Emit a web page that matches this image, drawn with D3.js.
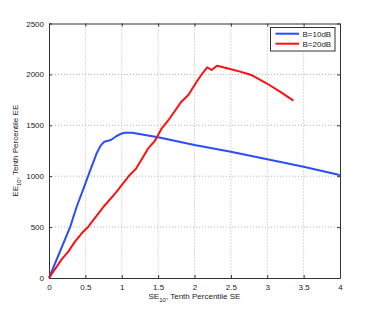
<!DOCTYPE html>
<html>
<head>
<meta charset="utf-8">
<script src="https://cdn.jsdelivr.net/npm/d3@7"></script>
<style>
  body { margin: 0; background: #fff; }
  text { font-family: "Liberation Sans", Arial, sans-serif; fill: #222; }
</style>
</head>
<body>
<script>
// series
const seB10x = [0, 0.29, 0.38, 0.47, 0.56, 0.655, 0.71, 0.76, 0.85, 0.93, 1.0, 1.045, 1.145, 1.32, 1.5, 2, 2.5, 3, 3.5, 3.98, 4];
const eeB10 = [0, 500, 700, 870, 1044, 1225, 1300, 1339, 1356, 1395, 1420, 1427, 1427, 1405, 1382, 1306, 1241, 1166, 1093, 1015, 1000];

const seB20x = [0, 0.174, 0.265, 0.357, 0.47, 0.54, 0.68, 0.75, 0.91, 1.0, 1.11, 1.2, 1.365, 1.457, 1.55, 1.66, 1.82, 1.915, 2.03, 2.11, 2.175, 2.235, 2.31, 2.49, 2.625, 2.75, 2.81, 2.99, 3.175, 3.36];
const eeB20 = [0, 183, 259, 357, 455, 504, 635, 700, 832, 913, 1012, 1077, 1274, 1349, 1470, 1569, 1732, 1798, 1928, 2011, 2070, 2043, 2085, 2053, 2027, 2001, 1984, 1913, 1830, 1742];

const xTicks = [0, 0.5, 1, 1.5, 2, 2.5, 3, 3.5, 4];
const yTicks = [0, 500, 1000, 1500, 2000, 2500];
const seriesNames = ['B=10dB', 'B=20dB'];
const seriesColors = ['#2d4cff', '#ff1010'];

const margin = { top: 23.5, right: 35, bottom: 35, left: 49 };
const width = 375 - margin.left - margin.right;
const height = 313 - margin.top - margin.bottom;

const svg = d3.select('body')
  .append('svg')
    .attr('width', 375)
    .attr('height', 313);

const g = svg.append('g')
  .attr('transform', `translate(${margin.left}, ${margin.top})`);

const x = d3.scaleLinear().domain([0, 4]).range([0, width]);
const y = d3.scaleLinear().domain([0, 2500]).range([height, 0]);

// grid
g.append('g')
  .selectAll('line')
  .data(xTicks.slice(1, -1))
  .join('line')
    .attr('x1', d => x(d)).attr('x2', d => x(d))
    .attr('y1', 0).attr('y2', height)
    .attr('stroke', '#b5b5b5')
    .attr('stroke-dasharray', '1,2');

g.append('g')
  .selectAll('line')
  .data(yTicks.slice(1, -1))
  .join('line')
    .attr('y1', d => y(d)).attr('y2', d => y(d))
    .attr('x1', 0).attr('x2', width)
    .attr('stroke', '#b5b5b5')
    .attr('stroke-dasharray', '1,2');

// axes, ticks inward like matlab
const xAxis = d3.axisBottom(x).tickValues(xTicks).tickFormat(d3.format('')).tickSizeInner(-3).tickSizeOuter(0).tickPadding(6);
const yAxis = d3.axisLeft(y).tickValues(yTicks).tickFormat(d3.format('')).tickSizeInner(-3).tickSizeOuter(0).tickPadding(5);

g.append('g')
  .attr('transform', `translate(0, ${height})`)
  .call(xAxis);

g.append('g')
  .call(yAxis);

g.append('g')
  .call(d3.axisTop(x).tickValues(xTicks).tickFormat('').tickSizeInner(-3).tickSizeOuter(0));

g.append('g')
  .attr('transform', `translate(${width}, 0)`)
  .call(d3.axisRight(y).tickValues(yTicks).tickFormat('').tickSizeInner(-3).tickSizeOuter(0));

g.selectAll('.domain').attr('stroke', '#333');
g.selectAll('.tick line').attr('stroke', '#333');
g.selectAll('.tick text').style('font-size', '8px').attr('fill', '#222');

// curves
const line = d3.line().x(d => x(d[0])).y(d => y(d[1]));
const series = [
  d3.zip(seB10x, eeB10),
  d3.zip(seB20x, eeB20)
];

g.selectAll('.curve')
  .data(series)
  .join('path')
    .attr('class', 'curve')
    .attr('d', line)
    .attr('fill', 'none')
    .attr('stroke', (d, i) => seriesColors[i])
    .attr('stroke-width', 2)
    .attr('stroke-linejoin', 'round');

// legend
const legend = g.append('g')
  .attr('transform', `translate(${width - 69.5}, 4)`);

legend.append('rect')
  .attr('width', 64.5)
  .attr('height', 23.5)
  .attr('fill', '#fff')
  .attr('stroke', '#333');

seriesNames.forEach((name, i) => {
  legend.append('line')
    .attr('x1', 5).attr('x2', 28.5)
    .attr('y1', 6.2 + i * 10).attr('y2', 6.2 + i * 10)
    .attr('stroke', seriesColors[i])
    .attr('stroke-width', 2);
  legend.append('text')
    .attr('x', 32)
    .attr('y', 9 + i * 10)
    .style('font-size', '8px')
    .text(name);
});

// axis labels with subscripts
const xLabel = svg.append('text')
  .attr('x', margin.left + width / 2)
  .attr('y', 299)
  .attr('text-anchor', 'middle')
  .style('font-size', '8px');
xLabel.append('tspan').text('SE');
xLabel.append('tspan').attr('dy', 2.5).style('font-size', '6px').text('10');
xLabel.append('tspan').attr('dy', -2.5).text(', Tenth Percentile SE');

const yLabel = svg.append('text')
  .attr('transform', `translate(18, ${margin.top + height / 2}) rotate(-90)`)
  .attr('text-anchor', 'middle')
  .style('font-size', '8px');
yLabel.append('tspan').text('EE');
yLabel.append('tspan').attr('dy', 2.5).style('font-size', '6px').text('10');
yLabel.append('tspan').attr('dy', -2.5).text(', Tenth Percentile EE');
</script>
</body>
</html>
